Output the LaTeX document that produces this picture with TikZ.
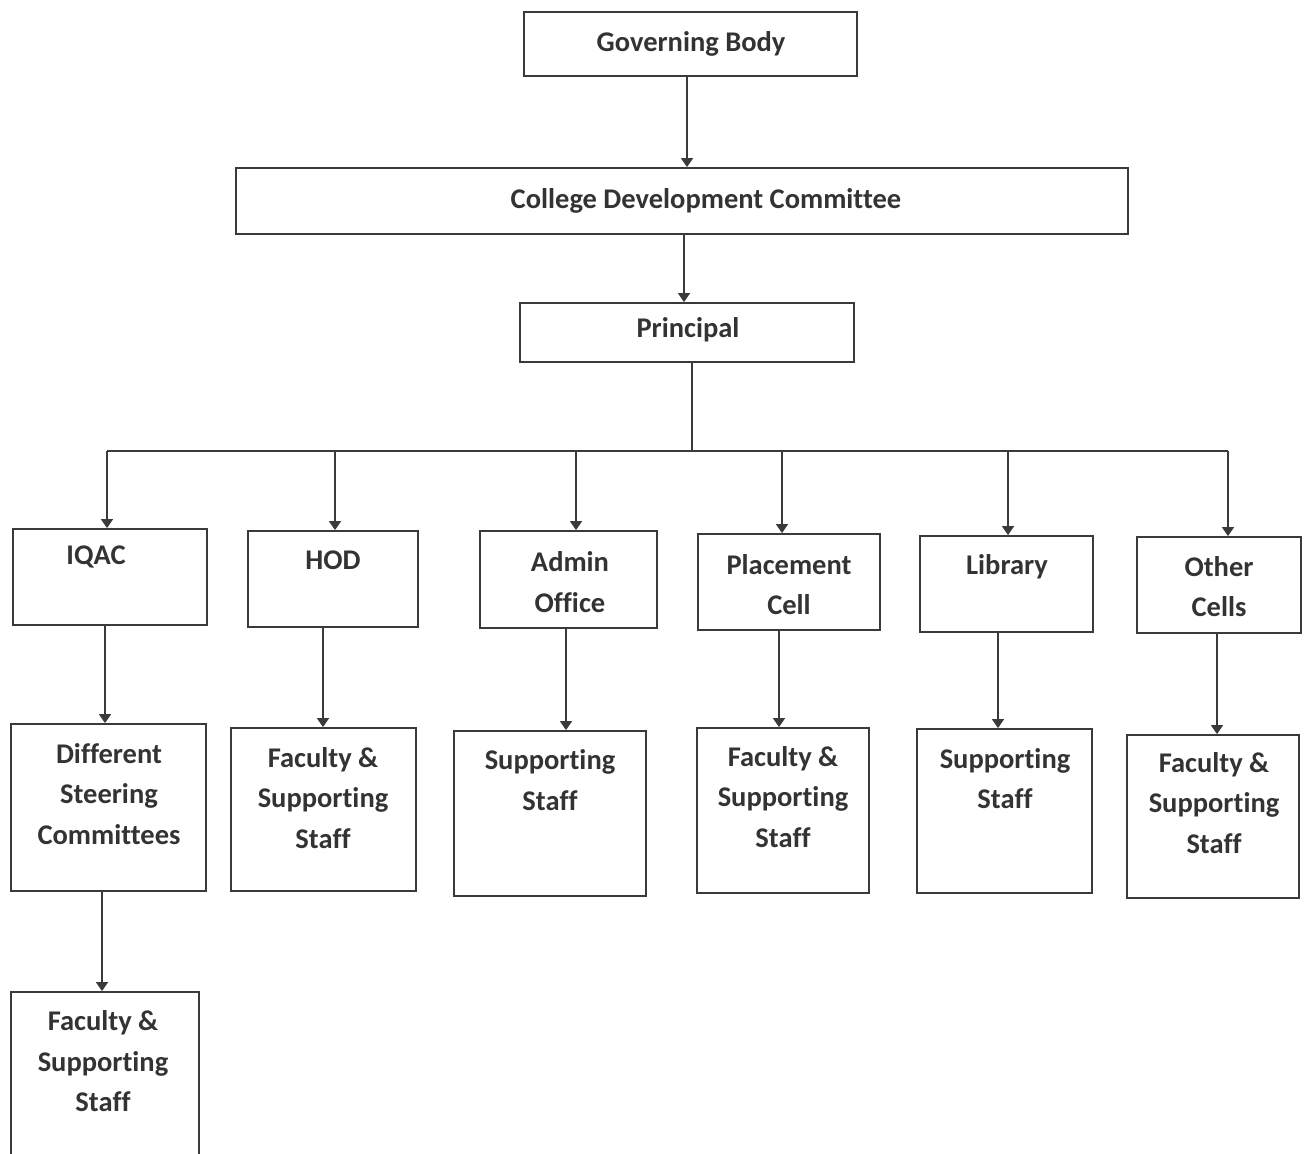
\documentclass[tikz,border=0pt]{standalone}
\usepackage{fontspec}
\setmainfont{Carlito}[Ligatures=NoCommon]
\usetikzlibrary{arrows.meta}
\definecolor{ink}{HTML}{3A3A3A}
\definecolor{txt}{HTML}{333333}
\tikzset{
  box/.style={draw=ink, line width=1.8pt, inner sep=0pt, fill=none},
  lbl/.style={text=txt, inner sep=0pt, align=center, font=\fontsize{28.5}{40.5}\selectfont\bfseries},
  conn/.style={draw=ink, line width=1.5pt},
  arr/.style={conn, -{Triangle[width=12pt,length=9pt]}}
}
\begin{document}
\begin{tikzpicture}[x=1pt,y=-1pt]
\useasboundingbox (0,0) rectangle (1307,1154);
\clip (0,0) rectangle (1307,1154);
% boxes
\node[box, minimum width=333pt, minimum height=64pt] (gb) at (690.5,44) {};
\node[box, minimum width=892pt, minimum height=66pt] (cdc) at (682,201) {};
\node[box, minimum width=334pt, minimum height=59pt] (prin) at (687,332.5) {};
\node[box, minimum width=194pt, minimum height=96pt] (iqac) at (110,577) {};
\node[box, minimum width=170pt, minimum height=96pt] (hod) at (333,579) {};
\node[box, minimum width=177pt, minimum height=97pt] (admin) at (568.5,579.5) {};
\node[box, minimum width=182pt, minimum height=96pt] (place) at (789,582) {};
\node[box, minimum width=173pt, minimum height=96pt] (lib) at (1006.5,584) {};
\node[box, minimum width=164pt, minimum height=96pt] (other) at (1219,585) {};
\node[box, minimum width=195pt, minimum height=167pt] (dsc) at (108.5,807.5) {};
\node[box, minimum width=185pt, minimum height=163pt] (fsa) at (323.5,809.5) {};
\node[box, minimum width=192pt, minimum height=165pt] (ssa) at (550,813.5) {};
\node[box, minimum width=172pt, minimum height=165pt] (fsb) at (783,810.5) {};
\node[box, minimum width=175pt, minimum height=164pt] (ssb) at (1004.5,811) {};
\node[box, minimum width=172pt, minimum height=163pt] (fsc) at (1213,816.5) {};
\node[box, minimum width=188pt, minimum height=180pt] (fsd) at (105,1082) {};
% labels
\node[lbl] (tgb) at (691,44) {Governing Body};
\node[lbl] (tcdc) at (706,201) {College Development Committee};
\node[lbl] (tprin) at (688,330) {Principal};
\node[lbl] (tiqac) at (96,557) {IQAC};
\node[lbl] (thod) at (333,560) {HOD};
\node[lbl] (tadmin) at (570,582) {Admin\\Office};
\node[lbl] (tplace) at (789,584.5) {Placement\\Cell};
\node[lbl] (tlib) at (1007,567) {Library};
\node[lbl] (tother) at (1219,586.5) {Other\\Cells};
\node[lbl] (tdsc) at (109,794) {Different\\Steering\\Committees};
\node[lbl] (tfsa) at (323,798) {Faculty \&\\Supporting\\Staff};
\node[lbl] (tssa) at (550,780) {Supporting\\Staff};
\node[lbl] (tfsb) at (783,797) {Faculty \&\\Supporting\\Staff};
\node[lbl] (tssb) at (1005,778.5) {Supporting\\Staff};
\node[lbl] (tfsc) at (1214,803) {Faculty \&\\Supporting\\Staff};
\node[lbl] (tfsd) at (103,1061.5) {Faculty \&\\Supporting\\Staff};
% connectors
\draw[arr] ([xshift=-3.5pt]gb.south) -- ([xshift=-3.5pt]gb.south |- cdc.north);
\draw[arr] ([xshift=2pt]cdc.south) -- ([xshift=2pt]cdc.south |- prin.north);
\coordinate (bus) at (692,451);
\coordinate (b1) at (107,451);
\coordinate (b2) at (335,451);
\coordinate (b3) at (576,451);
\coordinate (b4) at (782,451);
\coordinate (b5) at (1008,451);
\coordinate (b6) at (1228,451);
\draw[conn] (prin.south -| bus) -- (bus);
\draw[conn] (b1) -- (b6);
\draw[arr] (b1) -- (b1 |- iqac.north);
\draw[arr] (b2) -- (b2 |- hod.north);
\draw[arr] (b3) -- (b3 |- admin.north);
\draw[arr] (b4) -- (b4 |- place.north);
\draw[arr] (b5) -- (b5 |- lib.north);
\draw[arr] (b6) -- (b6 |- other.north);
\draw[arr] ([xshift=-5pt]iqac.south) -- ([xshift=-5pt]iqac.south |- dsc.north);
\draw[arr] ([xshift=-10pt]hod.south) -- ([xshift=-10pt]hod.south |- fsa.north);
\draw[arr] ([xshift=-2.5pt]admin.south) -- ([xshift=-2.5pt]admin.south |- ssa.north);
\draw[arr] ([xshift=-10pt]place.south) -- ([xshift=-10pt]place.south |- fsb.north);
\draw[arr] ([xshift=-8.5pt]lib.south) -- ([xshift=-8.5pt]lib.south |- ssb.north);
\draw[arr] ([xshift=-2pt]other.south) -- ([xshift=-2pt]other.south |- fsc.north);
\draw[arr] ([xshift=-6.5pt]dsc.south) -- ([xshift=-6.5pt]dsc.south |- fsd.north);
\end{tikzpicture}
\end{document}
